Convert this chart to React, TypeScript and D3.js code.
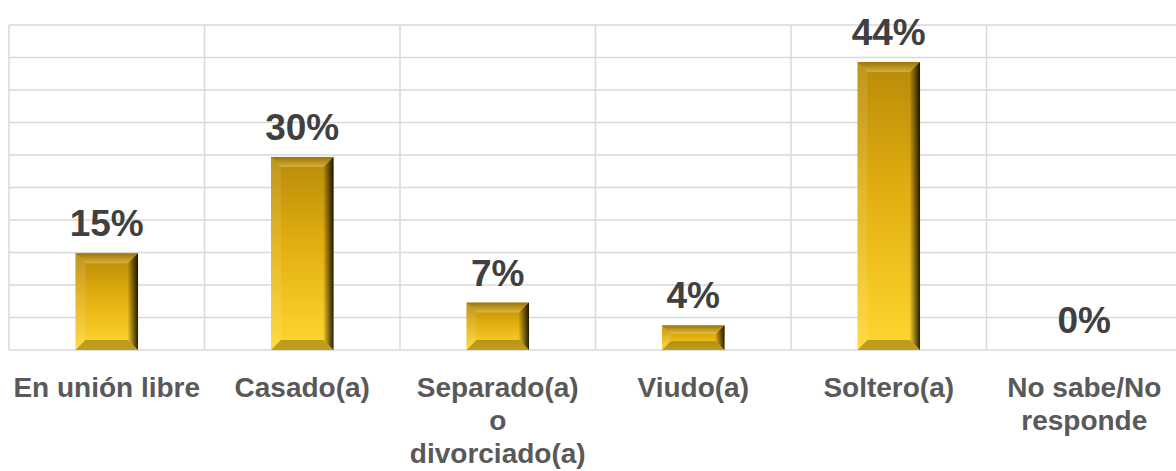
import React, { useEffect, useRef } from "react";
import * as d3 from "d3";

const categories = [
  "En unión libre",
  "Casado(a)",
  "Separado(a)\no\ndivorciado(a)",
  "Viudo(a)",
  "Soltero(a)",
  "No sabe/No\nresponde",
];
const values = [0.149, 0.297, 0.073, 0.038, 0.443, 0.0];
const valueLabels = ["15%", "30%", "7%", "4%", "44%", "0%"];
const yTicks = [0, 0.05, 0.1, 0.15, 0.2, 0.25, 0.3, 0.35, 0.4, 0.45, 0.5];

const W = 1176;
const H = 471;

export default function App() {
  const ref = useRef<SVGSVGElement | null>(null);

  useEffect(() => {
    const svg = d3.select(ref.current);
    svg.selectAll("*").remove();

    const left = 9;
    const band = 195.5;
    const top = 25;
    const bottom = 350;

    const x = d3
      .scaleBand<string>()
      .domain(categories)
      .range([left, left + band * categories.length])
      .paddingInner(0.68)
      .paddingOuter(0.34);
    const xb = d3
      .scaleBand<string>()
      .domain(categories)
      .range([left, left + band * categories.length])
      .padding(0);
    const y = d3.scaleLinear().domain([0, 0.5]).range([bottom, top]);

    const defs = svg.append("defs");
    const g1 = defs
      .append("linearGradient")
      .attr("id", "gold")
      .attr("x1", 0)
      .attr("y1", 0)
      .attr("x2", 0)
      .attr("y2", 1);
    g1.append("stop").attr("offset", "0%").attr("stop-color", "#b88a08");
    g1.append("stop").attr("offset", "45%").attr("stop-color", "#e2ae10");
    g1.append("stop").attr("offset", "100%").attr("stop-color", "#ffd830");

    const gr = defs
      .append("linearGradient")
      .attr("id", "rshade")
      .attr("x1", 0)
      .attr("y1", 0)
      .attr("x2", 1)
      .attr("y2", 0);
    gr.append("stop").attr("offset", "0%").attr("stop-color", "#000").attr("stop-opacity", 0.05);
    gr.append("stop").attr("offset", "100%").attr("stop-color", "#000").attr("stop-opacity", 0.85);

    const gt = defs
      .append("linearGradient")
      .attr("id", "tshade")
      .attr("x1", 0)
      .attr("y1", 0)
      .attr("x2", 0)
      .attr("y2", 1);
    gt.append("stop").attr("offset", "0%").attr("stop-color", "#6a4a00").attr("stop-opacity", 0.35);
    gt.append("stop").attr("offset", "100%").attr("stop-color", "#fff4a0").attr("stop-opacity", 0.35);

    // grid
    const grid = svg.append("g");
    yTicks.forEach((t) => {
      grid
        .append("line")
        .attr("x1", left)
        .attr("x2", left + band * categories.length)
        .attr("y1", y(t))
        .attr("y2", y(t))
        .attr("stroke", "#d9d9d9")
        .attr("stroke-width", 1.5);
    });
    const bounds = categories.map((c) => xb(c) as number).concat([left + band * categories.length]);
    bounds.forEach((bx) => {
      grid
        .append("line")
        .attr("x1", bx)
        .attr("x2", bx)
        .attr("y1", top)
        .attr("y2", bottom)
        .attr("stroke", "#d9d9d9")
        .attr("stroke-width", 1.5);
    });

    // bars
    const bars = svg.append("g");
    categories.forEach((c, i) => {
      const v = values[i];
      if (v <= 0) return;
      const x0 = x(c) as number;
      const bw = x.bandwidth();
      const y0 = y(v);
      const y1 = y(0);
      const h = y1 - y0;
      const b = Math.min(10, h / 2.8);
      const g = bars.append("g");
      g.append("rect")
        .attr("x", x0)
        .attr("y", y0)
        .attr("width", bw)
        .attr("height", h)
        .attr("fill", "url(#gold)");
      const x1 = x0 + bw;
      // top bevel
      g.append("polygon")
        .attr("points", `${x0},${y0} ${x1},${y0} ${x1 - b},${y0 + b} ${x0 + b},${y0 + b}`)
        .attr("fill", "url(#tshade)");
      // left bevel
      g.append("polygon")
        .attr("points", `${x0},${y0} ${x0 + b},${y0 + b} ${x0 + b},${y1 - b} ${x0},${y1}`)
        .attr("fill", "#fff")
        .attr("fill-opacity", 0.1);
      // right bevel
      g.append("polygon")
        .attr("points", `${x1},${y0} ${x1 - b},${y0 + b} ${x1 - b},${y1 - b} ${x1},${y1}`)
        .attr("fill", "url(#rshade)");
      // bottom bevel
      g.append("polygon")
        .attr("points", `${x0},${y1} ${x0 + b},${y1 - b} ${x1 - b},${y1 - b} ${x1},${y1}`)
        .attr("fill", "#5a4000")
        .attr("fill-opacity", 0.38);
    });

    // value labels
    const vl = svg.append("g");
    categories.forEach((c, i) => {
      vl.append("text")
        .attr("x", (x(c) as number) + x.bandwidth() / 2)
        .attr("y", y(values[i]) - 17)
        .attr("text-anchor", "middle")
        .attr("font-family", "'Liberation Sans', Arial, sans-serif")
        .attr("font-weight", 700)
        .attr("font-size", 37)
        .attr("fill", "#404040")
        .text(valueLabels[i]);
    });

    // category labels
    const cl = svg.append("g");
    categories.forEach((c) => {
      const cx = (xb(c) as number) + xb.bandwidth() / 2;
      const t = cl
        .append("text")
        .attr("text-anchor", "middle")
        .attr("font-family", "'Liberation Sans', Arial, sans-serif")
        .attr("font-weight", 700)
        .attr("font-size", 28)
        .attr("fill", "#595959");
      c.split("\n").forEach((line, k) => {
        t.append("tspan")
          .attr("x", cx)
          .attr("y", 397 + k * 33)
          .text(line);
      });
    });
  }, []);

  return (
    <div
      style={{
        position: "fixed",
        left: 0,
        top: 0,
        width: W,
        height: H,
        overflow: "hidden",
        background: "#fff",
      }}
    >
      <svg ref={ref} width={1200} height={H} style={{ display: "block" }} />
    </div>
  );
}
